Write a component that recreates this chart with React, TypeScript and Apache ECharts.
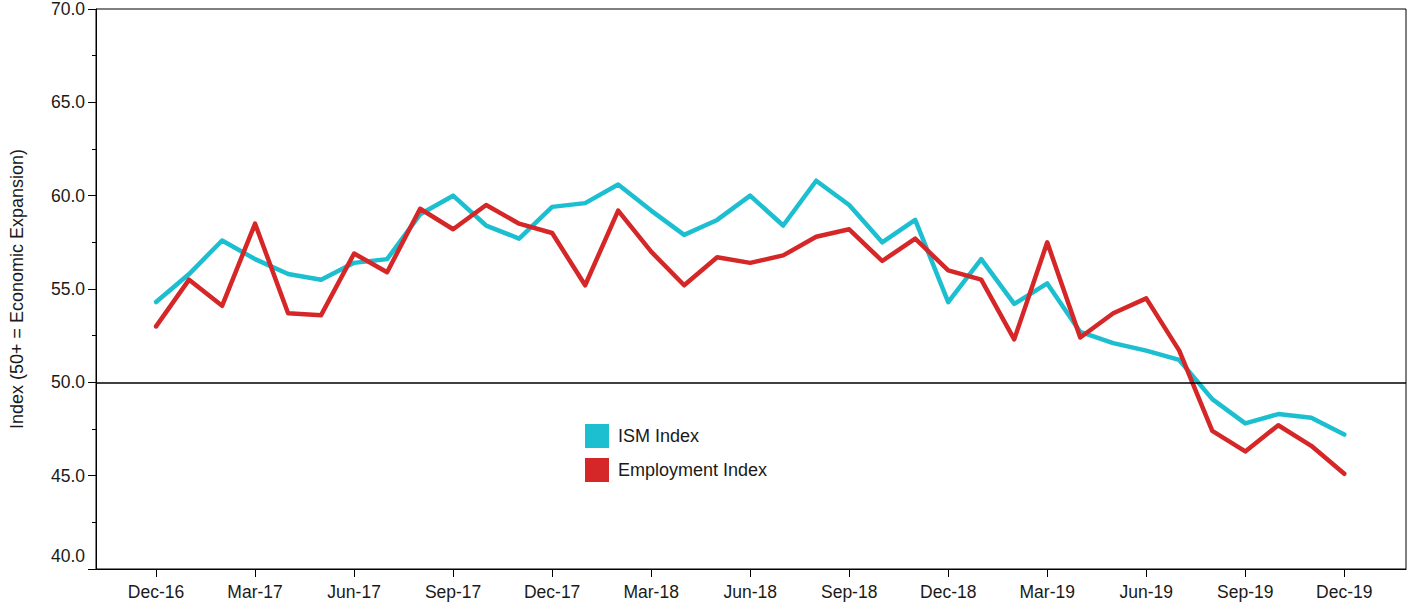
import React, { useEffect, useRef } from "react";
import * as echarts from "echarts";

const months: string[] = [
  "Dec-16", "Jan-17", "Feb-17", "Mar-17", "Apr-17", "May-17", "Jun-17", "Jul-17", "Aug-17", "Sep-17", "Oct-17", "Nov-17",
  "Dec-17", "Jan-18", "Feb-18", "Mar-18", "Apr-18", "May-18", "Jun-18", "Jul-18", "Aug-18", "Sep-18", "Oct-18", "Nov-18",
  "Dec-18", "Jan-19", "Feb-19", "Mar-19", "Apr-19", "May-19", "Jun-19", "Jul-19", "Aug-19", "Sep-19", "Oct-19", "Nov-19",
  "Dec-19",
];

const ismIndex: number[] = [
  54.3, 55.8, 57.6, 56.6, 55.8, 55.5, 56.4, 56.6, 59.0, 60.0, 58.4, 57.7,
  59.4, 59.6, 60.6, 59.2, 57.9, 58.7, 60.0, 58.4, 60.8, 59.5, 57.5, 58.7,
  54.3, 56.6, 54.2, 55.3, 52.7, 52.1, 51.7, 51.2, 49.1, 47.8, 48.3, 48.1,
  47.2,
];

const employmentIndex: number[] = [
  53.0, 55.5, 54.1, 58.5, 53.7, 53.6, 56.9, 55.9, 59.3, 58.2, 59.5, 58.5,
  58.0, 55.2, 59.2, 57.0, 55.2, 56.7, 56.4, 56.8, 57.8, 58.2, 56.5, 57.7,
  56.0, 55.5, 52.3, 57.5, 52.4, 53.7, 54.5, 51.7, 47.4, 46.3, 47.7, 46.6,
  45.1,
];

const tickMonthIndexes: number[] = [0, 3, 6, 9, 12, 15, 18, 21, 24, 27, 30, 33, 36];

const FONT = "'Liberation Sans', Arial, sans-serif";
const TEXT_COLOR = "#1a1a1a";

export default function App() {
  const ref = useRef<HTMLDivElement>(null);

  useEffect(() => {
    if (!ref.current) return;
    const chart = echarts.init(ref.current, undefined, { renderer: "svg" });
    const toPairs = (arr: number[]) => arr.map((v, i) => [i, v]);
    chart.setOption({
      animation: false,
      textStyle: { fontFamily: FONT },
      grid: {
        left: 93,
        right: 5,
        top: 5,
        bottom: 35,
        show: true,
        borderColor: "#000",
        borderWidth: 1,
        backgroundColor: "transparent",
      },
      legend: {
        orient: "vertical",
        left: 585,
        top: 424,
        padding: 0,
        itemWidth: 24,
        itemHeight: 24,
        itemGap: 10,
        icon: "rect",
        selectedMode: false,
        textStyle: { fontFamily: FONT, fontSize: 18, color: TEXT_COLOR, padding: [0, 0, 0, 4] },
        data: ["ISM Index", "Employment Index"],
      },
      xAxis: {
        type: "value",
        min: -1.82,
        max: 37.87,
        splitLine: { show: false },
        axisLine: { show: true, onZero: false, lineStyle: { color: "#000", width: 1 } },
        axisTick: {
          show: true,
          length: 8,
          lineStyle: { color: "#000" },
          customValues: tickMonthIndexes,
        },
        axisLabel: {
          customValues: tickMonthIndexes,
          formatter: (v: number) => months[Math.round(v)] ?? "",
          fontFamily: FONT,
          fontSize: 17.5,
          color: TEXT_COLOR,
          margin: 14,
        },
      },
      yAxis: {
        type: "value",
        min: 40,
        max: 70,
        interval: 5,
        name: "Index (50+ = Economic Expansion)",
        nameLocation: "middle",
        nameGap: 70,
        nameRotate: 90,
        nameTextStyle: { fontFamily: FONT, fontSize: 18, color: TEXT_COLOR },
        splitLine: { show: false },
        axisLine: { show: true, onZero: false, lineStyle: { color: "#000", width: 1 } },
        axisTick: { show: true, length: 8, lineStyle: { color: "#000" } },
        minorTick: { show: true, splitNumber: 2, length: 4, lineStyle: { color: "#000" } },
        minorSplitLine: { show: false },
        axisLabel: {
          fontFamily: FONT,
          fontSize: 17.5,
          color: TEXT_COLOR,
          margin: 11,
          formatter: (v: number) => (v === 40 ? "{low|40.0}" : v.toFixed(1)),
          rich: {
            low: { fontFamily: FONT, fontSize: 17.5, color: TEXT_COLOR, padding: [0, 0, 26, 0] },
          },
        },
      },
      series: [
        {
          name: "ISM Index",
          type: "line",
          data: toPairs(ismIndex),
          showSymbol: false,
          symbol: "none",
          color: "#1bbfd0",
          lineStyle: { width: 4.5, color: "#1bbfd0", join: "round", cap: "round" },
          markLine: {
            silent: true,
            symbol: "none",
            label: { show: false },
            lineStyle: { color: "#000", width: 1.5, type: "solid" },
            data: [{ yAxis: 50 }],
          },
          z: 2,
        },
        {
          name: "Employment Index",
          type: "line",
          data: toPairs(employmentIndex),
          showSymbol: false,
          symbol: "none",
          color: "#d62728",
          lineStyle: { width: 4.5, color: "#d62728", join: "round", cap: "round" },
          z: 3,
        },
      ],
    });
    return () => chart.dispose();
  }, []);

  return (
    <div
      ref={ref}
      style={{ position: "absolute", left: 0, top: 0, width: 1411, height: 604 }}
    />
  );
}
